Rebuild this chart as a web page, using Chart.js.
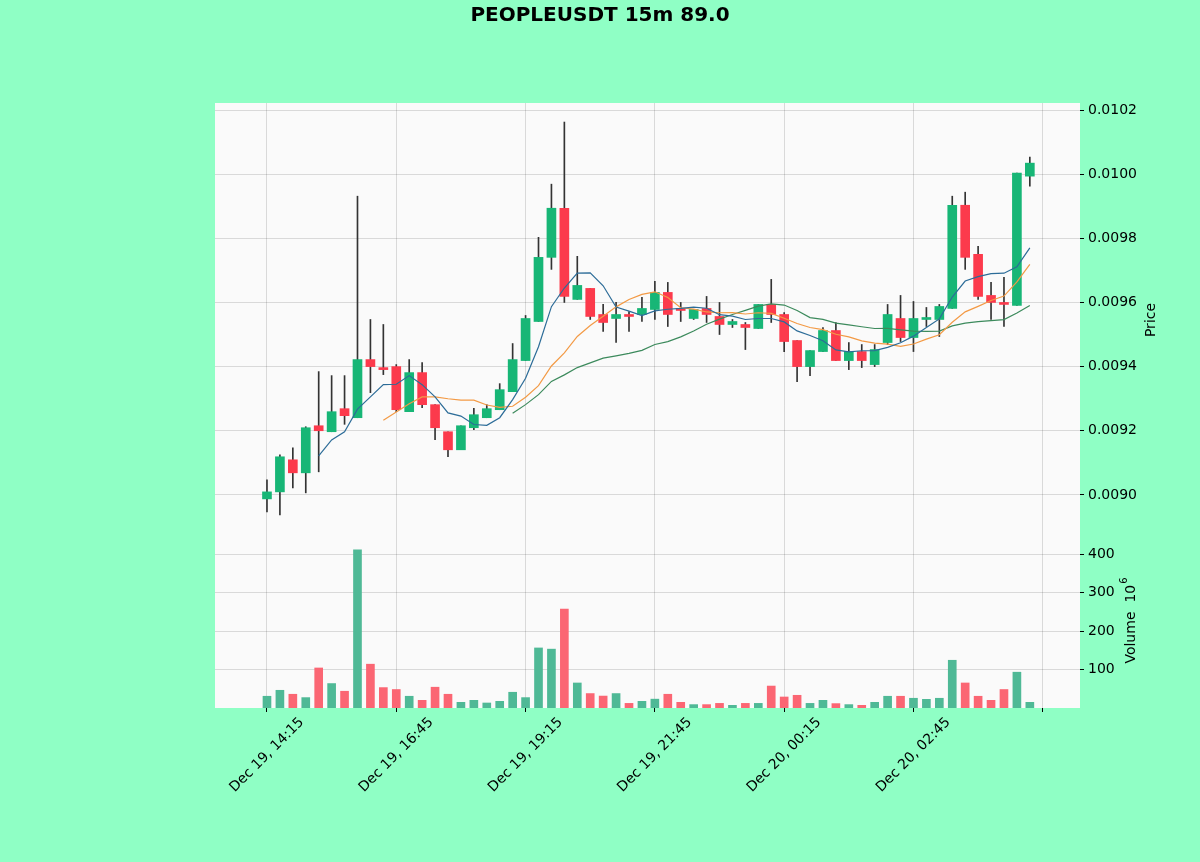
<!DOCTYPE html>
<html>
<head>
<meta charset="utf-8">
<script src="https://cdn.jsdelivr.net/npm/chart.js@4.4.1/dist/chart.umd.min.js"></script>
<style>
html,body{margin:0;padding:0;background:#8fffc5;}
#wrap{width:1200px;height:862px;position:relative;}
</style>
</head>
<body>
<div id="wrap"><canvas id="c" width="1200" height="862"></canvas></div>
<script>
// ---- data (15m candles, Dec 19 14:15 -> Dec 20 05:00) ----
const xTickPos = [0, 10, 20, 30, 40, 50, 60];
const tickLabels = ['Dec 19, 14:15', 'Dec 19, 16:45', 'Dec 19, 19:15', 'Dec 19, 21:45', 'Dec 20, 00:15', 'Dec 20, 02:45', ''];
const priceTicks = [0.0090, 0.0092, 0.0094, 0.0096, 0.0098, 0.0100, 0.0102];
const volTicks = [100, 200, 300, 400];

const opens = [0.0089875,0.0090094,0.0091094,0.0090688,0.0092156,0.0091969,0.0092688,0.0092406,0.0094219,0.0093969,
0.0094,0.0092594,0.0093813,0.0092813,0.0091969,0.0091406,0.0092094,0.0092406,0.0092656,0.0093219,
0.0094188,0.0095406,0.0097406,0.0098938,0.0096094,0.0096438,0.0095625,0.00955,0.0095625,0.0095625,
0.0095781,0.0096313,0.0095813,0.00955,0.0095813,0.0095563,0.0095313,0.0095313,0.0095188,0.0095938,
0.0095625,0.0094813,0.0094,0.0094469,0.0095125,0.0094188,0.0094469,0.0094063,0.009475,0.00955,
0.0094906,0.0095469,0.0095469,0.0095813,0.0099031,0.00975,0.0096219,0.0096,0.0095906,0.0099938];

const highs = [0.0090469,0.009125,0.0091469,0.0092125,0.0093844,0.0093719,0.0093719,0.0099313,0.0095469,0.0095313,
0.0094063,0.0094219,0.0094125,0.0092813,0.0091969,0.0092156,0.00927,0.0092813,0.0093469,0.0094719,
0.0095594,0.0098031,0.0099688,0.0101625,0.0097438,0.0096438,0.0095938,0.0096,0.0095719,0.0096156,
0.0096656,0.0096625,0.0096,0.0095781,0.0096188,0.0096,0.0095469,0.0095375,0.0095938,0.0096719,
0.0095688,0.0094813,0.00945,0.0095219,0.0095375,0.009475,0.0094688,0.0094688,0.0095938,0.0096219,
0.0096031,0.0095844,0.0095938,0.0099313,0.0099438,0.009775,0.0096625,0.0096781,0.0100031,0.0100531];

const lows = [0.0089469,0.0089375,0.0090219,0.0090063,0.0090719,0.0091969,0.00922,0.0092406,0.0093188,0.009375,
0.0092594,0.0092594,0.0092719,0.0091719,0.0091188,0.0091406,0.0092031,0.0092406,0.0092656,0.0093219,
0.0094188,0.0095406,0.0097031,0.0096,0.0096094,0.0095469,0.0095094,0.009475,0.0095094,0.0095406,
0.0095469,0.009525,0.0095406,0.0095469,0.0095375,0.0095,0.0095219,0.0094531,0.0095188,0.0095375,
0.0094469,0.0093531,0.0093719,0.0094469,0.0094188,0.0093906,0.0093969,0.0094,0.0094688,0.0094781,
0.0094469,0.009525,0.0094938,0.0095813,0.0097031,0.0096094,0.0095469,0.009525,0.0095906,0.0099625];

const closes = [0.0090094,0.0091188,0.0090688,0.0092094,0.0092,0.0092594,0.0092469,0.0094219,0.0094,0.0093906,
0.0092656,0.0093813,0.0092813,0.0092094,0.0091406,0.0092156,0.00925,0.0092688,0.0093281,0.0094219,
0.00955,0.0097406,0.0098938,0.0096188,0.0096531,0.0095563,0.0095375,0.0095625,0.0095563,0.0095813,
0.0096313,0.0095625,0.009575,0.0095781,0.0095625,0.0095313,0.0095406,0.0095219,0.0095938,0.0095625,
0.0094781,0.0094,0.00945,0.0095125,0.0094188,0.0094469,0.0094188,0.0094531,0.0095625,0.0094906,
0.00955,0.0095531,0.0095875,0.0099031,0.0097406,0.0096188,0.0096,0.0095938,0.0100031,0.0100344];

// volume in units of 10^6
const volumes = [30.5,46,35.7,27,104,63.5,43.5,410.7,113.8,53,
48,30.5,20,54,35.7,14.8,20,13,17.4,40.9,
27,156,152.9,257,65,37.5,31,37.5,12,17.4,
23,35.7,14.8,8.8,8.8,12,7,12,12,57,
28.6,33,12,20,11.4,8.8,7,14.8,30.5,30.5,
25.3,22.6,25.3,124,65,30.5,20,48,93,14.8];

const mavPeriods = [5, 10, 20];

// ---- derived ----
function sma(arr, n) {
  return arr.map((_, i) => i < n - 1 ? null : arr.slice(i - n + 1, i + 1).reduce((a, b) => a + b, 0) / n);
}
const UP = '#17b676', DOWN = '#fc3a4c', VUP = '#4fb996', VDOWN = '#fb6673';
const isUp = closes.map((c, i) => c >= opens[i]);
const idx = closes.map((_, i) => i);
const mavColors = ['#2c6c98', '#f39a45', '#3c8a5c'];

const bodyData = idx.map(i => ({ x: i, y: [opens[i], closes[i]] }));
const wickData = idx.map(i => ({ x: i, y: [lows[i], highs[i]] }));
const volData = idx.map(i => ({ x: i, y: volumes[i] }));

const mavSets = mavPeriods.map((p, k) => ({
  type: 'line',
  data: sma(closes, p).map((v, i) => ({ x: i, y: v })),
  borderColor: mavColors[k],
  borderWidth: 1.2,
  pointRadius: 0,
  fill: false,
  tension: 0,
  yAxisID: 'y',
  order: 0
}));

const FONT = 'DejaVu Sans';

const decor = {
  id: 'decor',
  beforeDraw(chart) {
    const { ctx, chartArea: a } = chart;
    ctx.save();
    ctx.fillStyle = '#8fffc5';
    ctx.fillRect(0, 0, chart.width, chart.height);
    ctx.fillStyle = '#fafafa';
    ctx.fillRect(a.left, a.top, a.right - a.left, a.bottom - a.top);
    ctx.restore();
  },
  afterDraw(chart) {
    const { ctx } = chart;
    const xs = chart.scales.x;
    ctx.save();
    ctx.fillStyle = '#000';
    ctx.font = 'bold 20px ' + FONT;
    ctx.textAlign = 'center';
    ctx.textBaseline = 'middle';
    ctx.fillText('PEOPLEUSDT 15m 89.0', 600, 16);
    ctx.font = '14px ' + FONT;
    xTickPos.forEach((p, k) => {
      const lbl = tickLabels[k];
      if (!lbl) return;
      const px = xs.getPixelForValue(p);
      ctx.save();
      ctx.translate(px, 755);
      ctx.rotate(-Math.PI / 4);
      ctx.fillText(lbl, 0, 0);
      ctx.restore();
    });
    ctx.save();
    ctx.translate(1151, 320);
    ctx.rotate(-Math.PI / 2);
    ctx.fillText('Price', 0, 0);
    ctx.restore();
    ctx.save();
    ctx.translate(1131, 621);
    ctx.rotate(-Math.PI / 2);
    ctx.textAlign = 'left';
    ctx.font = '14px ' + FONT;
    const t1 = 'Volume  10';
    const w1 = ctx.measureText(t1).width;
    ctx.font = '10px ' + FONT;
    const w2 = ctx.measureText('6').width;
    const start = -(w1 + w2) / 2;
    ctx.font = '14px ' + FONT;
    ctx.fillText(t1, start, 0);
    ctx.font = '10px ' + FONT;
    ctx.fillText('6', start + w1 + 1, -7);
    ctx.restore();
    ctx.restore();
  }
};

const gridCommon = { color: 'rgba(0,0,0,0.13)', lineWidth: 1, tickColor: '#000', tickLength: 4, drawTicks: true, offset: false };

new Chart(document.getElementById('c'), {
  type: 'bar',
  data: {
    datasets: [
      ...mavSets,
      {
        type: 'bar', data: bodyData, yAxisID: 'y', order: 1, grouped: false,
        backgroundColor: isUp.map(u => u ? UP : DOWN), borderWidth: 0,
        barThickness: 9, minBarLength: 1
      },
      {
        type: 'bar', data: wickData, yAxisID: 'y', order: 2, grouped: false,
        backgroundColor: '#333333', borderWidth: 0, barThickness: 1
      },
      {
        type: 'bar', data: volData, yAxisID: 'yv', order: 1, grouped: false,
        backgroundColor: isUp.map(u => u ? VUP : VDOWN), borderWidth: 0,
        barThickness: 8
      }
    ]
  },
  options: {
    responsive: false,
    animation: false,
    devicePixelRatio: 1,
    layout: { padding: { left: 215, top: 103, right: 0, bottom: 0 } },
    plugins: { legend: { display: false }, tooltip: { enabled: false }, title: { display: false } },
    scales: {
      x: {
        type: 'linear', position: 'bottom', min: -4.02, max: 62.88, offset: false,
        grid: gridCommon, border: { display: false },
        ticks: { display: false },
        afterBuildTicks(s) { s.ticks = xTickPos.map(v => ({ value: v })); },
        afterFit(s) { s.height = 154; }
      },
      y: {
        type: 'linear', position: 'right', stack: 'panels', stackWeight: 442, weight: 1,
        min: 0.00884375, max: 0.01022188,
        grid: gridCommon, border: { display: false },
        ticks: { color: '#000', font: { family: FONT, size: 14 }, padding: 4, callback: v => v.toFixed(4) },
        afterBuildTicks(s) { s.ticks = priceTicks.map(v => ({ value: v })); },
        afterFit(s) { s.width = 120; }
      },
      yv: {
        type: 'linear', position: 'right', stack: 'panels', stackWeight: 163, weight: 2,
        min: 0, max: 423.4,
        grid: gridCommon, border: { display: false },
        ticks: { color: '#000', font: { family: FONT, size: 14 }, padding: 4, callback: v => String(v) },
        afterBuildTicks(s) { s.ticks = volTicks.map(v => ({ value: v })); },
        afterFit(s) { s.width = 120; }
      }
    }
  },
  plugins: [decor]
});
</script>
</body>
</html>
